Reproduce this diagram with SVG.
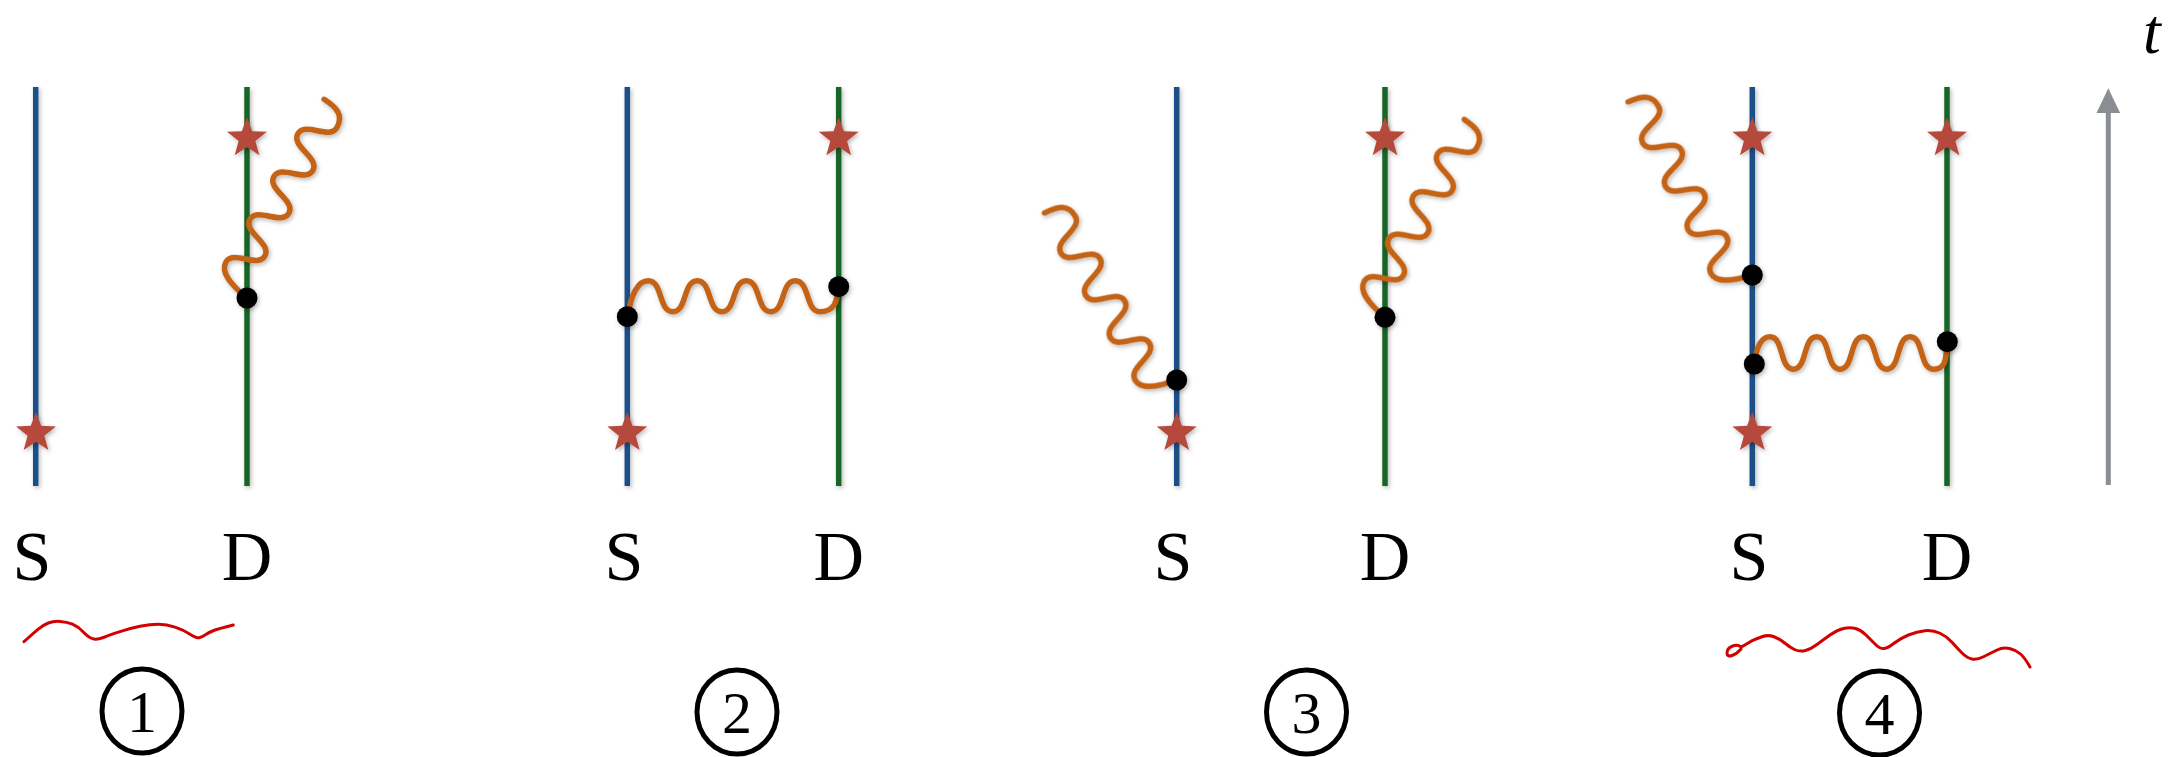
<svg xmlns="http://www.w3.org/2000/svg" xmlns:xlink="http://www.w3.org/1999/xlink" width="2168" height="757" viewBox="0 0 2168 757">
<style>
.bg{fill:#ffffff}
.ws{fill:none;stroke:#1e5087;stroke-width:5.5}
.wd{fill:none;stroke:#176628;stroke-width:5.5}
.ph{fill:none;stroke:#c46213;stroke-width:5.5;stroke-linecap:round;stroke-linejoin:round}
.star{fill:#b54a3b}
.dot{fill:#000000}
.lbl{font-family:"Liberation Serif","DejaVu Serif",serif;font-size:70px;fill:#000;text-anchor:middle}
.num{font-family:"Liberation Serif","DejaVu Serif",serif;font-size:60px;fill:#000;text-anchor:middle}
.ring{fill:none;stroke:#000;stroke-width:5}
.red{fill:none;stroke:#d20000;stroke-width:3;stroke-linecap:round;stroke-linejoin:round}
.axis{stroke:#8a8d92;stroke-width:5;fill:none}
</style>
<defs>
<filter id="sh" filterUnits="userSpaceOnUse" x="-3000" y="-3000" width="6000" height="6000">
<feDropShadow dx="1.5" dy="2" stdDeviation="2" flood-color="#000" flood-opacity="0.28"/>
</filter>
<path id="star" class="star" d="M0,-21 L5.19,-7.14 L19.97,-6.49 L8.39,2.73 L12.35,16.99 L0,8.82 L-12.35,16.99 L-8.39,2.73 L-19.97,-6.49 L-5.19,-7.14 Z"/>
<path id="wave" class="ph" d="M0,0 C4,-22 10,-36 21,-36 C35.5,-36 31,-5 45.5,-5 S55.5,-36 70,-36 S80,-5 94.5,-5 S104.5,-36 119,-36 S129,-5 143.5,-5 S153.5,-36 168,-36 S178,-5 192.5,-5 S210,-15 211,-30"/>
</defs>
<rect class="bg" x="0" y="0" width="2168" height="757"/>

<!-- Diagram 1 -->
<g id="d1-S">
<line class="ws" x1="35.7" y1="87" x2="35.7" y2="486" filter="url(#sh)"/>
<use href="#star" x="36" y="433" filter="url(#sh)"/>
<text class="lbl" x="32" y="580">S</text>
</g>
<g id="d1-D">
<line class="wd" x1="247" y1="87" x2="247" y2="486" filter="url(#sh)"/>
<use href="#star" x="247" y="138.3" filter="url(#sh)"/>
<text class="lbl" x="247" y="580">D</text>
</g>

<!-- Diagram 2 -->
<g id="d2-S">
<line class="ws" x1="627.3" y1="87" x2="627.3" y2="486" filter="url(#sh)"/>
<use href="#star" x="627.3" y="433" filter="url(#sh)"/>
<text class="lbl" x="624" y="580">S</text>
</g>
<g id="d2-D">
<line class="wd" x1="838.7" y1="87" x2="838.7" y2="486" filter="url(#sh)"/>
<use href="#star" x="838.7" y="138.3" filter="url(#sh)"/>
<text class="lbl" x="838.7" y="580">D</text>
</g>

<!-- Diagram 3 -->
<g id="d3-S">
<line class="ws" x1="1176.7" y1="87" x2="1176.7" y2="486" filter="url(#sh)"/>
<use href="#star" x="1176.7" y="433" filter="url(#sh)"/>
<text class="lbl" x="1173" y="580">S</text>
</g>
<g id="d3-D">
<line class="wd" x1="1385" y1="87" x2="1385" y2="486" filter="url(#sh)"/>
<use href="#star" x="1385" y="138.3" filter="url(#sh)"/>
<text class="lbl" x="1385" y="580">D</text>
</g>

<!-- Diagram 4 -->
<g id="d4-S">
<line class="ws" x1="1752.3" y1="87" x2="1752.3" y2="486" filter="url(#sh)"/>
<use href="#star" x="1752.3" y="138.3" filter="url(#sh)"/>
<use href="#star" x="1752.3" y="433" filter="url(#sh)"/>
<text class="lbl" x="1749" y="580">S</text>
</g>
<g id="d4-D">
<line class="wd" x1="1947" y1="87" x2="1947" y2="486" filter="url(#sh)"/>
<use href="#star" x="1947" y="138.3" filter="url(#sh)"/>
<text class="lbl" x="1947" y="580">D</text>
</g>

<!-- Photon connectors -->
<g id="connectors" filter="url(#sh)">
<use href="#wave" transform="translate(247,298) rotate(-60.7)"/>
<use href="#wave" transform="translate(627.3,316.7)"/>
<use href="#wave" transform="translate(1176.7,380) rotate(-120.3)"/>
<use href="#wave" transform="translate(1385,317.3) rotate(-60.1)"/>
<use href="#wave" transform="translate(1752.3,275) rotate(-117.6)"/>
<path class="ph" d="M1754.3,362 C1757,345 1762,336.7 1770,336.7 C1784,336.7 1779.3,369.3 1793.3,369.3 S1802.7,336.7 1816.7,336.7 S1826,369.3 1840,369.3 S1849.3,336.7 1863.3,336.7 S1872.7,369.3 1886.7,369.3 S1896,336.7 1910,336.7 S1919.3,369.3 1933.3,369.3 S1946,355 1947,342"/>
</g>

<!-- Vertices -->
<g id="v1" filter="url(#sh)"><circle class="dot" cx="247" cy="298" r="10.5"/></g>
<g id="v2a" filter="url(#sh)"><circle class="dot" cx="627.3" cy="316.7" r="10.5"/></g>
<g id="v2b" filter="url(#sh)"><circle class="dot" cx="838.7" cy="286.7" r="10.5"/></g>
<g id="v3a" filter="url(#sh)"><circle class="dot" cx="1176.7" cy="380" r="10.5"/></g>
<g id="v3b" filter="url(#sh)"><circle class="dot" cx="1385" cy="317.3" r="10.5"/></g>
<g id="v4a" filter="url(#sh)"><circle class="dot" cx="1752.3" cy="275" r="10.5"/></g>
<g id="v4b" filter="url(#sh)"><circle class="dot" cx="1754.3" cy="364" r="10.5"/></g>
<g id="v4c" filter="url(#sh)"><circle class="dot" cx="1947.3" cy="341.7" r="10.5"/></g>

<!-- Time axis -->
<g id="time-axis">
<line class="axis" x1="2108.3" y1="485" x2="2108.3" y2="110"/>
<polygon fill="#8a8d92" points="2108.3,88.3 2096.5,113 2120.1,113"/>
<text x="2152" y="53" font-family="'Liberation Serif','DejaVu Serif',serif" font-style="italic" font-size="64" fill="#000" text-anchor="middle">t</text>
</g>

<!-- Red squiggles -->
<g id="mark1">
<path class="red" d="M24,641.7 L28.7,637.5 Q33.3,633.3 38.3,629.2 Q43.3,625 48.3,623 Q53.3,621 60,621.4 Q66.7,621.7 72.5,624.2 Q78.3,626.7 83.3,632 Q88.3,637.3 92.5,638.7 Q96.7,640 103.4,637.5 Q110,635 120,631.7 Q130,628.3 140,626.3 Q150,624.3 158.4,624.3 Q166.7,624.3 175,627.2 Q183.3,630 190,634.2 Q196.7,638.3 199.2,637.8 Q201.7,637.3 205.9,634.5 Q210,631.7 215,630 Q220,628.3 226.7,626.7 L233.3,625"/>
</g>
<g id="mark4">
<path class="red" d="M1741,649 C1736,655 1727,659 1727,653 C1727,647 1736,643 1741,647 C1746,645 1750,641 1756,639 L1762,636.75 Q1768,634.5 1774,636.75 Q1780,639 1785,643.25 Q1790,647.5 1795,649.75 Q1800,652 1805.5,650.5 Q1811,649 1817,644.5 Q1823,640 1830,635 Q1837,630 1843.5,628.5 Q1850,627 1855.5,628.5 Q1861,630 1866,635 Q1871,640 1875.5,644.5 Q1880,649 1884,648.5 Q1888,648 1894,643.25 Q1900,638.5 1908.5,635 Q1917,631.5 1925,630.75 Q1933,630 1940,633.25 Q1947,636.5 1952,642.25 Q1957,648 1962,653 Q1967,658 1972,659 Q1977,660 1983.5,656.75 Q1990,653.5 1996.5,650.25 Q2003,647 2009.5,648.5 Q2016,650 2020.5,654 Q2025,658 2030,667"/>
</g>

<!-- Circled numbers -->
<g id="n1"><ellipse class="ring" cx="142" cy="711" rx="40" ry="42"/><text class="num" x="142" y="732">1</text></g>
<g id="n2"><ellipse class="ring" cx="737" cy="712" rx="40" ry="42"/><text class="num" x="737" y="733">2</text></g>
<g id="n3"><ellipse class="ring" cx="1306.5" cy="712" rx="40" ry="42"/><text class="num" x="1306.5" y="733">3</text></g>
<g id="n4"><ellipse class="ring" cx="1879.5" cy="713" rx="40" ry="42"/><text class="num" x="1879.5" y="734">4</text></g>
</svg>
